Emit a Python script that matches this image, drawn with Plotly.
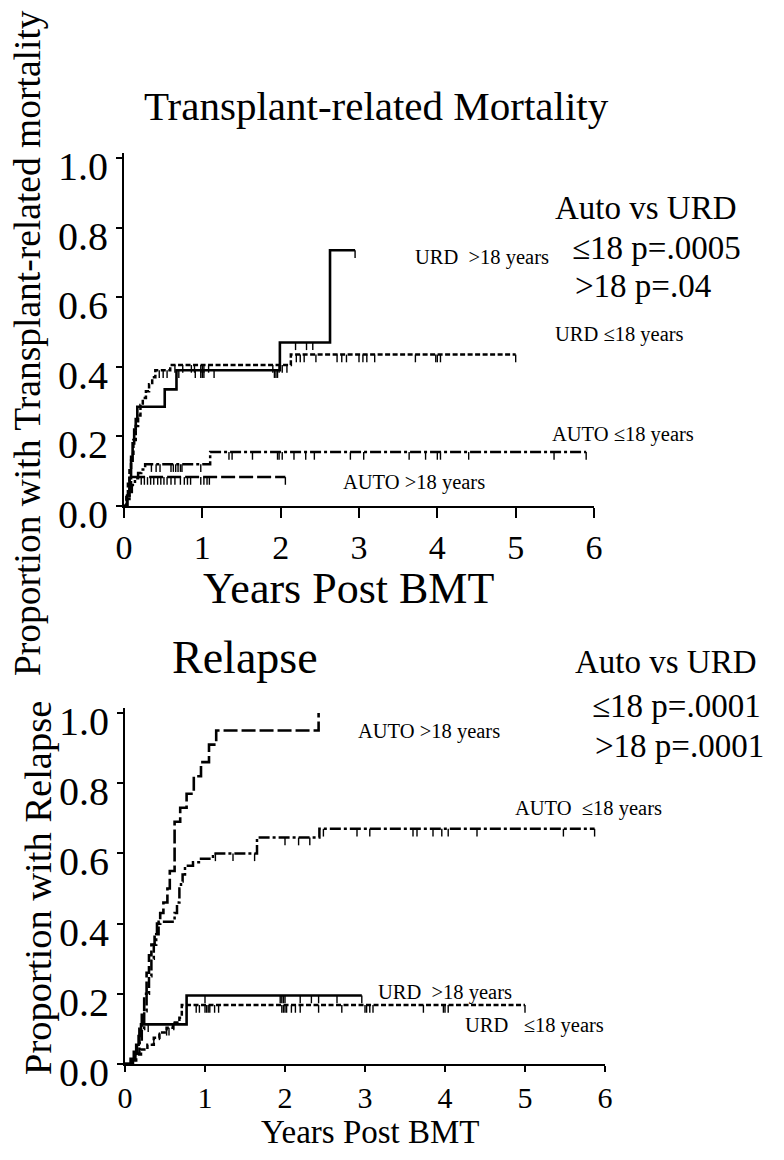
import plotly.graph_objects as go

FONT = "Liberation Serif"

# ---------------- Data: Transplant-related mortality (top panel) ----------------
trm_urd_gt18_t = [0, 0.04, 0.07, 0.09, 0.11, 0.13, 0.15, 0.17, 0.52, 0.67, 1.99, 2.63]
trm_urd_gt18_p = [0, 0.03, 0.08, 0.13, 0.18, 0.22, 0.25, 0.285, 0.335, 0.39, 0.47, 0.735]
trm_urd_gt18_end = 2.95
trm_urd_gt18_cens = [0.52, 0.70, 0.91, 0.98, 1.0, 1.02, 1.15, 1.92, 1.94, 1.96, 2.19, 2.33, 2.41, 2.95]

trm_urd_le18_t = [0, 0.03, 0.05, 0.07, 0.09, 0.12, 0.15, 0.18, 0.21, 0.24, 0.28, 0.32, 0.36, 0.40, 0.59, 2.13]
trm_urd_le18_p = [0, 0.03, 0.07, 0.11, 0.15, 0.19, 0.23, 0.26, 0.29, 0.31, 0.33, 0.35, 0.37, 0.39, 0.405, 0.435]
trm_urd_le18_end = 5.0
trm_urd_le18_cens = [0.45, 0.5, 0.55, 0.65, 0.75, 0.86, 0.9, 0.98, 1.0, 1.02, 1.08, 1.9, 1.98, 2.02, 2.08,
                     2.2, 2.25, 2.3, 2.45, 2.72, 2.78, 2.84, 3.0, 3.05, 3.1, 3.2, 3.72, 3.98, 4.0, 4.04, 5.0]

trm_auto_le18_t = [0, 0.04, 0.07, 0.1, 0.14, 0.18, 0.22, 0.27, 1.1]
trm_auto_le18_p = [0, 0.02, 0.04, 0.06, 0.08, 0.095, 0.105, 0.12, 0.155]
trm_auto_le18_end = 5.9
trm_auto_le18_cens = [0.35, 0.41, 0.46, 0.6, 0.63, 0.66, 0.69, 0.72, 0.74, 0.98, 1.34, 1.38, 1.64, 1.96, 1.98,
                      2.02, 2.17, 2.32, 2.43, 2.89, 3.06, 3.64, 3.85, 4.0, 4.04, 4.4, 5.49, 5.9]

trm_auto_gt18_t = [0, 0.04, 0.07, 0.09]
trm_auto_gt18_p = [0, 0.02, 0.05, 0.083]
trm_auto_gt18_end = 2.06
trm_auto_gt18_cens = [0.22, 0.26, 0.3, 0.34, 0.38, 0.43, 0.47, 0.51, 0.55, 0.6, 0.65, 0.72, 0.77, 0.81, 0.85,
                      0.98, 1.02, 1.06, 1.09, 2.06]

# ---------------- Data: Relapse (bottom panel) ----------------
rel_auto_gt18_t = [0, 0.08, 0.12, 0.15, 0.18, 0.21, 0.24, 0.27, 0.30, 0.33, 0.37, 0.40, 0.44, 0.48, 0.53,
                   0.56, 0.62, 0.69, 0.77, 0.86, 0.95, 1.05, 1.14, 2.42]
rel_auto_gt18_p = [0, 0.01, 0.03, 0.06, 0.1, 0.14, 0.2, 0.26, 0.31, 0.34, 0.37, 0.40, 0.43, 0.46, 0.5,
                   0.55, 0.69, 0.73, 0.77, 0.82, 0.86, 0.91, 0.95, 1.0]
rel_auto_gt18_end = 2.42
rel_auto_gt18_cens = []

rel_auto_le18_t = [0, 0.1, 0.14, 0.18, 0.21, 0.24, 0.27, 0.3, 0.33, 0.36, 0.39, 0.42, 0.62, 0.65, 0.68, 0.7,
                   0.72, 0.75, 0.85, 0.95, 1.1, 1.65, 2.43]
rel_auto_le18_p = [0, 0.01, 0.03, 0.06, 0.1, 0.15, 0.2, 0.25, 0.3, 0.34, 0.37, 0.405, 0.43, 0.46, 0.5, 0.52,
                   0.54, 0.565, 0.575, 0.585, 0.60, 0.645, 0.67]
rel_auto_le18_end = 5.87
rel_auto_le18_cens = [1.13, 1.35, 1.62, 2.0, 2.17, 2.31, 2.48, 2.9, 3.06, 3.6, 3.65, 3.85, 3.96, 4.04, 4.4,
                      5.48, 5.87]

rel_urd_gt18_t = [0, 0.07, 0.11, 0.14, 0.17, 0.2, 0.77]
rel_urd_gt18_p = [0, 0.015, 0.035, 0.055, 0.08, 0.113, 0.195]
rel_urd_gt18_end = 2.96
rel_urd_gt18_cens = [0.29, 1.0, 1.94, 1.96, 1.98, 2.0, 2.19, 2.33, 2.42, 2.65, 2.96]

rel_urd_le18_t = [0, 0.08, 0.13, 0.2, 0.28, 0.36, 0.43, 0.52, 0.6, 0.68, 0.71]
rel_urd_le18_p = [0, 0.012, 0.027, 0.041, 0.055, 0.075, 0.09, 0.103, 0.118, 0.132, 0.168]
rel_urd_le18_end = 5.0
rel_urd_le18_cens = [0.36, 0.43, 0.52, 0.55, 0.61, 0.89, 0.93, 1.0, 1.02, 1.04, 1.06, 1.12, 1.17, 1.96, 1.98,
                     2.0, 2.02, 2.08, 2.13, 2.19, 2.42, 2.71, 3.0, 3.02, 3.06, 3.1, 3.73, 3.98, 4.0, 4.04, 5.0]

# ---------------- Tick labels / texts ----------------
x_ticks = [0, 1, 2, 3, 4, 5, 6]
x_ticktext = ["0", "1", "2", "3", "4", "5", "6"]
y_ticks = [0.0, 0.2, 0.4, 0.6, 0.8, 1.0]
y_ticktext = ["0.0", "0.2", "0.4", "0.6", "0.8", "1.0"]

top_title = "Transplant-related Mortality"
bot_title = "Relapse"
x_title = "Years Post BMT"
top_ytitle = "Proportion with Transplant-related mortality"
bot_ytitle = "Proportion with Relapse"
top_stats = ["Auto vs URD", "\u226418 p=.0005", ">18 p=.04"]
bot_stats = ["Auto vs URD", "\u226418 p=.0001", ">18 p=.0001"]

# The page body has an 8px default margin; size the figure so it fills the 784x1160 window.
PAGE_W, PAGE_H, BODY_M = 784, 1160, 8
W, H = PAGE_W - 2 * BODY_M, PAGE_H - 2 * BODY_M
fig = go.Figure()


def step_value(ts, ps, c):
    v = ps[0]
    for t, p in zip(ts, ps):
        if t <= c + 1e-9:
            v = p
    return v


def add_curve(ts, ps, end, cens, dash, width, xa, ya, ticklen=0.022):
    xs = list(ts) + [end]
    ys = list(ps) + [ps[-1]]
    fig.add_trace(go.Scatter(x=xs, y=ys, mode="lines", line_shape="hv",
                             line=dict(color="black", width=width, dash=dash),
                             xaxis=xa, yaxis=ya, showlegend=False, hoverinfo="skip"))
    if cens:
        cx, cy = [], []
        for c in cens:
            v = step_value(ts, ps, c)
            cx += [c, c, None]
            cy += [v, v - ticklen, None]
        fig.add_trace(go.Scatter(x=cx, y=cy, mode="lines",
                                 line=dict(color="black", width=1.4),
                                 xaxis=xa, yaxis=ya, showlegend=False, hoverinfo="skip"))


SOLID = "solid"
SHORT = "5px,2.5px"
DASHDOT = "11px,3px,3px,3px"
LONG = "14px,4px"

# top panel
add_curve(trm_urd_gt18_t, trm_urd_gt18_p, trm_urd_gt18_end, trm_urd_gt18_cens, SOLID, 2.6, "x", "y")
add_curve(trm_urd_le18_t, trm_urd_le18_p, trm_urd_le18_end, trm_urd_le18_cens, SHORT, 2.5, "x", "y")
add_curve(trm_auto_le18_t, trm_auto_le18_p, trm_auto_le18_end, trm_auto_le18_cens, DASHDOT, 2.5, "x", "y")
add_curve(trm_auto_gt18_t, trm_auto_gt18_p, trm_auto_gt18_end, trm_auto_gt18_cens, LONG, 2.5, "x", "y")

# bottom panel
add_curve(rel_auto_gt18_t, rel_auto_gt18_p, rel_auto_gt18_end, rel_auto_gt18_cens, LONG, 2.6, "x2", "y2")
add_curve(rel_auto_le18_t, rel_auto_le18_p, rel_auto_le18_end, rel_auto_le18_cens, DASHDOT, 2.5, "x2", "y2")
add_curve(rel_urd_gt18_t, rel_urd_gt18_p, rel_urd_gt18_end, rel_urd_gt18_cens, SOLID, 2.6, "x2", "y2")
add_curve(rel_urd_le18_t, rel_urd_le18_p, rel_urd_le18_end, rel_urd_le18_cens, SHORT, 2.5, "x2", "y2")


def px_x(px):
    return (px - BODY_M) / W


def px_y(py):
    return 1 - (py - BODY_M) / H


axis_common = dict(showgrid=False, zeroline=False, showline=True, linecolor="black", linewidth=2,
                   ticks="outside", tickcolor="black", tickwidth=2, automargin=False)
xtickfont = dict(family=FONT, size=34, color="black")
xtickfont2 = dict(family=FONT, size=30, color="black")
ytickfont = dict(family=FONT, size=40, color="black")

# top axes: t=0 at px 124, t=6 at px 594; p=0 at py 506, p=1 at py 158
fig.update_layout(
    xaxis=dict(domain=[px_x(124), px_x(594)], range=[0, 6], tickvals=x_ticks, ticktext=x_ticktext,
               ticklen=10, anchor="y", ticklabelstandoff=0, tickfont=xtickfont, **axis_common),
    yaxis=dict(domain=[px_y(506), px_y(506 - 348 * 1.015)], range=[0, 1.015], tickvals=y_ticks,
               ticktext=y_ticktext, ticklen=6, anchor="x", ticklabelshift=8, ticklabelstandoff=0,
               tickfont=ytickfont, **axis_common),
    xaxis2=dict(domain=[px_x(125), px_x(605)], range=[0, 6], tickvals=x_ticks, ticktext=x_ticktext,
                ticklen=6, anchor="y2", ticklabelstandoff=0, tickfont=xtickfont2, **axis_common),
    yaxis2=dict(domain=[px_y(1064), px_y(1064 - 351 * 1.015)], range=[0, 1.015], tickvals=y_ticks,
                ticktext=y_ticktext, ticklen=6, anchor="x2", ticklabelshift=8, ticklabelstandoff=0,
                tickfont=ytickfont, **axis_common),
)

annotations = []


def txt(text, x, y, size, xanchor="left", angle=0):
    annotations.append(dict(text=text, x=px_x(x), y=px_y(y), xref="paper", yref="paper",
                            xanchor=xanchor, yanchor="middle", showarrow=False, textangle=angle,
                            font=dict(family=FONT, size=size, color="black")))


# titles
txt(top_title, 376, 106, 41, "center")
txt(bot_title, 245, 657, 46, "center")
txt(x_title, 348, 588, 44, "center")
txt(x_title, 370, 1132, 33, "center")
txt(top_ytitle, 27, 343, 37.5, "center", -90)
txt(bot_ytitle, 38, 888, 38.5, "center", -90)

# stats
for i, s in enumerate(top_stats):
    txt(s, [553, 570, 573][i], [208, 248, 286][i], 33)
for i, s in enumerate(bot_stats):
    txt(s, [573, 590, 593][i], [662, 706, 746][i], 33)

# curve labels
txt("URD  >18 years", 413, 257, 20.5)
txt("URD \u226418 years", 553, 334, 20.5)
txt("AUTO \u226418 years", 550, 434, 20.5)
txt("AUTO >18 years", 341, 482, 20.5)
txt("AUTO >18 years", 356, 731, 20.5)
txt("AUTO  \u226418 years", 513, 808, 20.5)
txt("URD  >18 years", 376, 992, 20.5)
txt("URD   \u226418 years", 463, 1025, 20.5)

fig.update_layout(width=W, height=H, margin=dict(l=0, r=0, t=0, b=0),
                  paper_bgcolor="white", plot_bgcolor="white", annotations=annotations,
                  showlegend=False)

fig.write_html("out.html")
